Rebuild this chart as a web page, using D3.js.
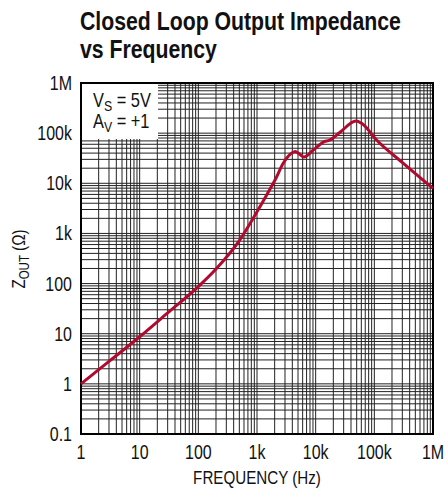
<!DOCTYPE html>
<html>
<head>
<meta charset="utf-8">
<script src="https://cdnjs.cloudflare.com/ajax/libs/d3/7.8.5/d3.min.js"></script>
<style>
  body { margin: 0; background: #fff; }
  svg text { font-family: "Liberation Sans", Arial, sans-serif; fill: #111; }
</style>
</head>
<body>
<div id="dv"></div>
<script>
// curve (Hz, ohms)
var freq = [1, 3, 10, 30, 100, 200, 500, 1000, 1660, 2030, 2800, 3700, 4500, 5200, 6300,
  9100, 14000, 17000, 26000, 48600, 60800, 109000, 312000, 1000000];
var zout = [1, 2.8, 8.7, 26, 87, 195, 720, 2700, 7600, 11600, 25000, 38000, 43000, 39000, 33500,
  46000, 68000, 72000, 104000, 175000, 157000, 73000, 25000, 7900];

var xTicks = [1, 10, 100, 1e3, 1e4, 1e5, 1e6];
var xTickLabels = ["1", "10", "100", "1k", "10k", "100k", "1M"];
var yTicks = [0.1, 1, 10, 100, 1e3, 1e4, 1e5, 1e6];
var yTickLabels = ["0.1", "1", "10", "100", "1k", "10k", "100k", "1M"];

var W = 448, H = 489;
var pL = 81, pR = 433, pT = 83, pB = 434;
var narrow = 0.82; // condensed look

var svg = d3.select("#dv").append("svg")
  .attr("width", W)
  .attr("height", H);

var x = d3.scaleLog().domain([1, 1e6]).range([pL, pR]);
var y = d3.scaleLog().domain([0.1, 1e6]).range([pB, pT]);

// text squeezed horizontally around its anchor
var addText = function(px, py, size, anchor, rot, sx) {
  return svg.append("g")
    .attr("transform", "translate(" + px + "," + py + ")" + (rot ? " rotate(" + rot + ")" : "") +
      " scale(" + (sx || narrow) + ",1)")
    .append("text")
    .style("font-size", size + "px")
    .style("text-anchor", anchor || "start");
};

// title
addText(80, 30, 25, "start", 0, 0.85).style("font-weight", "bold").text("Closed Loop Output Impedance");
addText(80, 58, 25, "start", 0, 0.85).style("font-weight", "bold").text("vs Frequency");

// grid: minor lines at 2..9 of every decade, major at decades
var xMinor = [], yMinor = [];
xTicks.slice(0, -1).forEach(function(d) {
  for (var k = 2; k <= 9; k++) xMinor.push(d * k);
});
yTicks.slice(0, -1).forEach(function(d) {
  for (var k = 2; k <= 9; k++) yMinor.push(d * k);
});

var grid = svg.append("g");
grid.selectAll("line.vx")
  .data(xMinor.concat(xTicks))
  .enter()
  .append("line")
  .attr("x1", function(d) { return x(d); })
  .attr("x2", function(d) { return x(d); })
  .attr("y1", pT)
  .attr("y2", pB)
  .attr("stroke", "#222")
  .attr("stroke-width", 1);
grid.selectAll("line.hy")
  .data(yMinor.concat(yTicks))
  .enter()
  .append("line")
  .attr("y1", function(d) { return y(d); })
  .attr("y2", function(d) { return y(d); })
  .attr("x1", pL)
  .attr("x2", pR)
  .attr("stroke", "#222")
  .attr("stroke-width", 1);

// condition box
svg.append("rect")
  .attr("x", pL)
  .attr("y", pT)
  .attr("width", 77)
  .attr("height", 56)
  .attr("fill", "#fff");

var cond = [["V", "S", " = 5V"], ["A", "V", " = +1"]];
cond.forEach(function(c, i) {
  var t = addText(93, 107 + i * 21, 20);
  t.append("tspan").text(c[0]);
  t.append("tspan").attr("dy", 4).style("font-size", "15px").text(c[1]);
  t.append("tspan").attr("dy", -4).text(c[2]);
});

// frame
svg.append("rect")
  .attr("x", pL)
  .attr("y", pT)
  .attr("width", pR - pL)
  .attr("height", pB - pT)
  .attr("fill", "none")
  .attr("stroke", "#000")
  .attr("stroke-width", 2);

// curve
var line = d3.line()
  .x(function(d) { return x(d[0]); })
  .y(function(d) { return y(d[1]); })
  .curve(d3.curveMonotoneX);

svg.append("path")
  .datum(d3.zip(freq, zout))
  .attr("d", line)
  .attr("fill", "none")
  .attr("stroke", "#b10a2e")
  .attr("stroke-width", 3)
  .attr("stroke-linejoin", "round");

// tick labels
xTicks.forEach(function(d, i) {
  addText(x(d), 459, 19.5, "middle").text(xTickLabels[i]);
});
yTicks.forEach(function(d, i) {
  addText(72, y(d) + 7, 19.5, "end").text(yTickLabels[i]);
});

// axis labels
addText((pL + pR) / 2, 484, 18.5, "middle").text("FREQUENCY (Hz)");

var yl = addText(25, 259, 18.5, "middle", -90);
yl.append("tspan").text("Z");
yl.append("tspan").attr("dy", 4).style("font-size", "14px").text("OUT");
yl.append("tspan").attr("dy", -4).text(" (\u03a9)");
</script>
</body>
</html>
